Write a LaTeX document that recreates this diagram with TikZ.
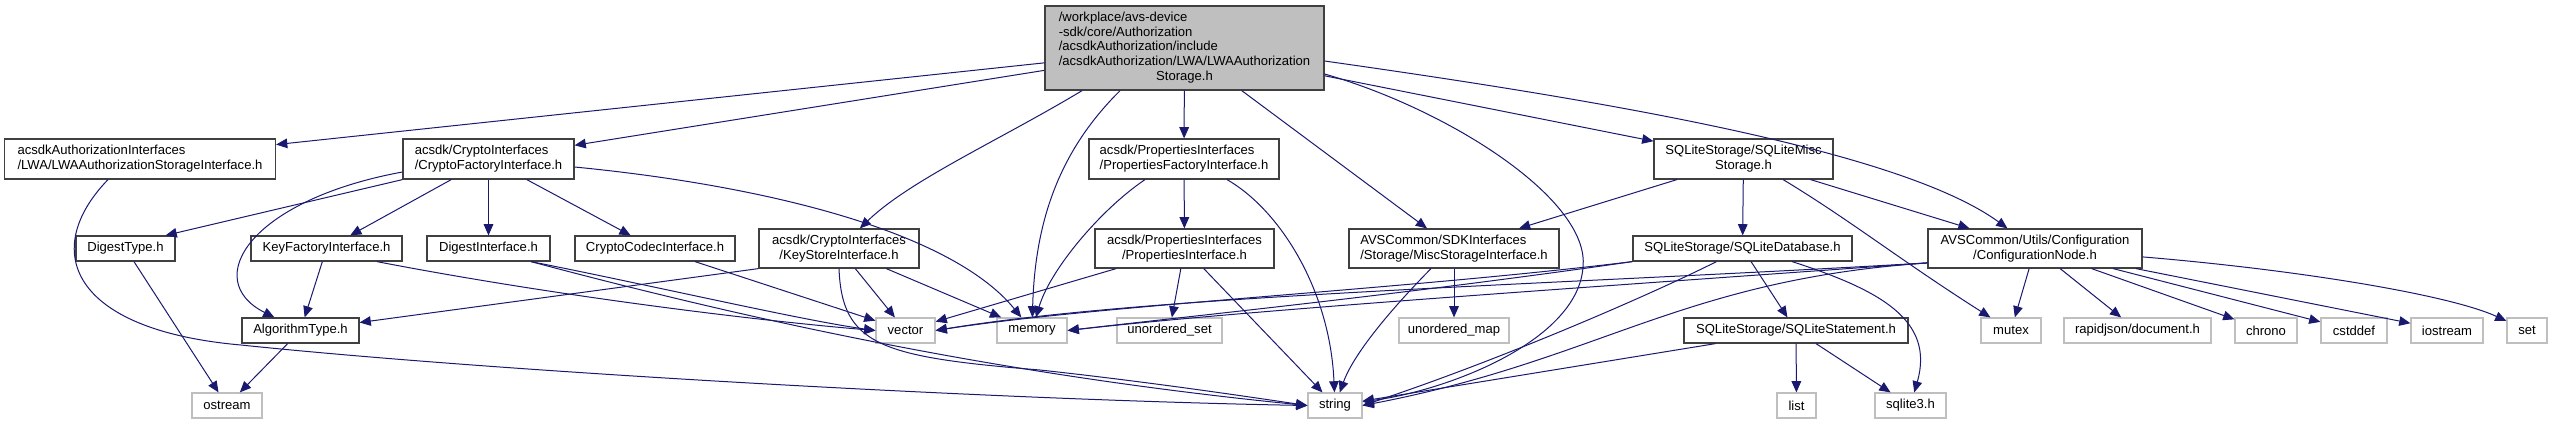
\documentclass[tikz,border=0pt]{standalone}
\usepackage{fontspec}
\setmainfont{Liberation Sans}
\usetikzlibrary{arrows.meta}

\definecolor{edgeblue}{RGB}{25,25,112}
\definecolor{boxgray}{RGB}{191,191,191}
\definecolor{boxline}{RGB}{64,64,64}

\begin{document}
\begin{tikzpicture}[x=0.25mm, y=-0.25mm, font=\fontsize{9.3}{10.6}\selectfont,
    hdr/.style={draw=boxline, line width=0.3mm, inner sep=1pt},
    sys/.style={draw=boxgray, line width=0.3mm, inner sep=1pt},
    dep/.style={draw=edgeblue, line width=0.25mm, -{Triangle[length=2.8mm, width=2.4mm]}}]

\useasboundingbox (0,0) rectangle (2553,424);

% --- File being documented ---
\node[hdr, fill=boxgray, minimum width=69.75mm, minimum height=21mm] (main) at (1184.5, 48) {\begin{tabular}{@{}l@{}}/workplace/avs-device\\-sdk/core/Authorization\\/acsdkAuthorization/include\\/acsdkAuthorization/LWA/LWAAuthorization\\\multicolumn{1}{@{}c@{}}{Storage.h}\end{tabular}};

% --- Row 1 ---
\node[hdr, align=left, minimum width=67.75mm, minimum height=10mm] (lwa) at (140, 159) {acsdkAuthorizationInterfaces\\/LWA/LWAAuthorizationStorageInterface.h};
\node[hdr, align=left, minimum width=42.75mm, minimum height=10mm] (cfact) at (488.5, 159) {acsdk/CryptoInterfaces\\/CryptoFactoryInterface.h};
\node[hdr, align=left, minimum width=47.5mm, minimum height=10mm] (pfact) at (1184, 159) {acsdk/PropertiesInterfaces\\/PropertiesFactoryInterface.h};
\node[hdr, align=center, minimum width=44.75mm, minimum height=10mm] (sqlmisc) at (1743.5, 159) {SQLiteStorage/SQLiteMisc\\Storage.h};

% --- Row 2 ---
\node[hdr, minimum width=24.75mm, minimum height=6.25mm] (dtype) at (125.5, 248.5) {DigestType.h};
\node[hdr, minimum width=37.75mm, minimum height=6.25mm] (kfact) at (326.5, 248.5) {KeyFactoryInterface.h};
\node[hdr, minimum width=30.75mm, minimum height=6.25mm] (dint) at (488.5, 248.5) {DigestInterface.h};
\node[hdr, minimum width=40mm, minimum height=6.25mm] (codec) at (655, 248.5) {CryptoCodecInterface.h};
\node[hdr, align=center, minimum width=40mm, minimum height=9.75mm] (kstore) at (839, 248.5) {acsdk/CryptoInterfaces\\/KeyStoreInterface.h};
\node[hdr, align=center, minimum width=44.75mm, minimum height=9.75mm] (pint) at (1184.5, 248.5) {acsdk/PropertiesInterfaces\\/PropertiesInterface.h};
\node[hdr, align=left, minimum width=52.5mm, minimum height=9.75mm] (misc) at (1454, 248.5) {AVSCommon/SDKInterfaces\\/Storage/MiscStorageInterface.h};
\node[hdr, minimum width=54.75mm, minimum height=6.25mm] (sqldb) at (1742.5, 248.5) {SQLiteStorage/SQLiteDatabase.h};
\node[hdr, align=center, minimum width=53.5mm, minimum height=9.75mm] (conf) at (2035, 248.5) {AVSCommon/Utils/Configuration\\/ConfigurationNode.h};

% --- Row 3 ---
\node[hdr, minimum width=29.25mm, minimum height=6.25mm] (algo) at (300.5, 330.5) {AlgorithmType.h};
\node[sys, minimum width=14.75mm, minimum height=6.25mm] (vector) at (905.5, 330.5) {vector};
\node[sys, minimum width=17.5mm, minimum height=6.25mm] (memory) at (1032, 330.5) {memory};
\node[sys, minimum width=26.25mm, minimum height=6.25mm] (uset) at (1169.5, 330.5) {unordered\_set};
\node[sys, minimum width=27.5mm, minimum height=6.25mm] (umap) at (1454, 330.5) {unordered\_map};
\node[hdr, minimum width=56mm, minimum height=6.25mm] (sqlstmt) at (1796, 330.5) {SQLiteStorage/SQLiteStatement.h};
\node[sys, minimum width=15mm, minimum height=6.25mm] (mutex) at (2011, 330.5) {mutex};
\node[sys, minimum width=36.75mm, minimum height=6.25mm] (rjson) at (2137.5, 330.5) {rapidjson/document.h};
\node[sys, minimum width=15.5mm, minimum height=6.25mm] (chrono) at (2266, 330.5) {chrono};
\node[sys, minimum width=16.5mm, minimum height=6.25mm] (cstddef) at (2354, 330.5) {cstddef};
\node[sys, minimum width=18mm, minimum height=6.25mm] (iostream) at (2447, 330.5) {iostream};
\node[sys, minimum width=10mm, minimum height=6.25mm] (set) at (2527, 330.5) {set};

% --- Row 4 ---
\node[sys, minimum width=17.5mm, minimum height=6.25mm] (ostream) at (227, 405.5) {ostream};
\node[sys, minimum width=13.5mm, minimum height=6.25mm] (string) at (1335, 405.5) {string};
\node[sys, minimum width=9.75mm, minimum height=6.25mm] (list) at (1796.5, 405.5) {list};
\node[sys, minimum width=17.75mm, minimum height=6.25mm] (sqlite) at (1910.5, 405.5) {sqlite3.h};

% --- Includes of the main file ---
\draw[dep] (main) -- (lwa);
\draw[dep] (main) -- (cfact);
\draw[dep] ([xshift=-25.6mm]main.south) .. controls (1000,140) and (910,180) .. (kstore);
\draw[dep] ([xshift=-16.1mm]main.south) .. controls (1060,150) and (1035,220) .. (memory);
\draw[dep] (main) -- (pfact);
\draw[dep] (main) -- (misc);
\draw[dep] ([yshift=-6.5mm]main.east) .. controls (1450,110) and (1590,200) .. (1583,267) .. controls (1578,340) and (1450,390) .. (string);
\draw[dep] (main) -- (sqlmisc);
\draw[dep] ([yshift=-3.25mm]main.east) .. controls (1600,100) and (1900,150) .. (conf);

% --- Crypto side ---
\draw[dep] ([xshift=-8mm]lwa.south) .. controls (40,250) and (70,330) .. (241,345) .. controls (500,372) and (1000,400) .. (string.west);
\draw[dep] (cfact.south west) -- ([xshift=-2.5mm]dtype.north east);
\draw[dep] ([yshift=-3.25mm]cfact.west) .. controls (250,200) and (200,280) .. (algo);
\draw[dep] (cfact) -- (kfact);
\draw[dep] (cfact) -- (dint);
\draw[dep] (cfact) -- (codec);
\draw[dep] ([yshift=-2mm]cfact.east) .. controls (760,185) and (950,230) .. (memory);
\draw[dep] (dtype) -- (ostream);
\draw[dep] (kfact) -- (algo);
\draw[dep] ([xshift=12.6mm]kfact.south) .. controls (550,295) and (750,320) .. (vector.west);
\draw[dep] (algo) -- (ostream);
\draw[dep] ([xshift=10.6mm]dint.south) .. controls (650,285) and (800,320) .. (vector.west);
\draw[dep] ([xshift=10.6mm]dint.south) .. controls (750,320) and (1000,375) .. (string.west);
\draw[dep] (codec) -- (vector);
\draw[dep] (kstore.south west) -- (algo);
\draw[dep] (kstore) -- (vector);
\draw[dep] (kstore) -- (memory);
\draw[dep] (kstore.south) .. controls (842,345) and (880,357) .. (1040,370) .. controls (1150,382) and (1250,397) .. (string.west);

% --- Properties ---
\draw[dep] ([xshift=-9.75mm]pfact.south) .. controls (1100,210) and (1050,270) .. (memory);
\draw[dep] (pfact) -- (pint);
\draw[dep] ([xshift=10.75mm]pfact.south) .. controls (1280,210) and (1330,290) .. (string);
\draw[dep] (pint) -- (vector);
\draw[dep] (pint) -- (uset);
\draw[dep] (pint) -- (string);

% --- Storage ---
\draw[dep] ([xshift=-5.75mm]misc.south) .. controls (1400,300) and (1355,350) .. (string);
\draw[dep] (misc) -- (umap);
\draw[dep] (sqlmisc) -- (misc);
\draw[dep] (sqlmisc) -- (sqldb);
\draw[dep] ([xshift=9.9mm]sqlmisc.south) .. controls (1850,220) and (1900,260) .. (mutex);
\draw[dep] (sqlmisc) -- (conf);
\draw[dep] (sqldb.south west) .. controls (1400,290) and (1100,305) .. (vector.east);
\draw[dep] (sqldb.south west) .. controls (1400,295) and (1200,315) .. (memory.east);
\draw[dep] (sqldb) .. controls (1650,295) and (1500,360) .. (string.east);
\draw[dep] (sqldb) -- (sqlstmt);
\draw[dep] ([xshift=12.4mm]sqldb.south) .. controls (1880,290) and (1935,320) .. (sqlite);
\draw[dep] (sqlstmt) -- (string);
\draw[dep] (sqlstmt) -- (list);
\draw[dep] (sqlstmt) -- (sqlite);

% --- Configuration ---
\draw[dep] ([yshift=-3.6mm]conf.west) .. controls (1550,285) and (1150,295) .. (vector.east);
\draw[dep] ([yshift=-3.6mm]conf.west) .. controls (1550,290) and (1250,310) .. (memory.east);
\draw[dep] ([yshift=-3.6mm]conf.west) .. controls (1680,280) and (1600,360) .. (string.east);
\draw[dep] (conf) -- (mutex);
\draw[dep] (conf) -- (rjson);
\draw[dep] (conf) -- (chrono);
\draw[dep] (conf) -- (cstddef);
\draw[dep] (conf) -- (iostream);
\draw[dep] ([yshift=-2.1mm]conf.east) .. controls (2300,270) and (2450,295) .. (set);

\end{tikzpicture}
\end{document}
